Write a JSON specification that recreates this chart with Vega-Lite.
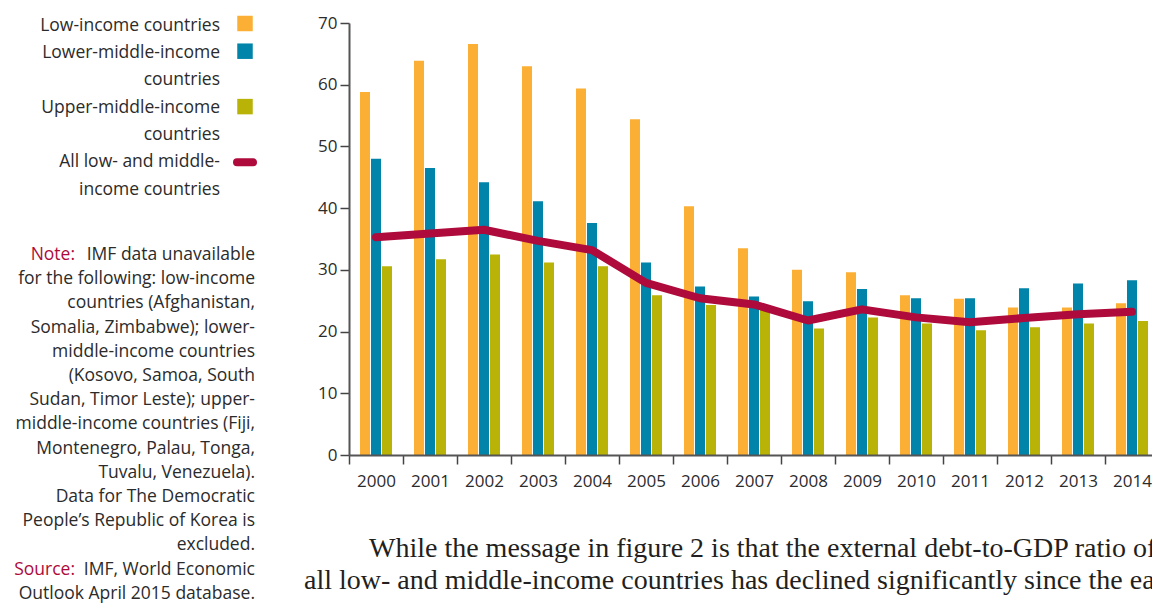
{
  "$schema": "https://vega.github.io/schema/vega-lite/v6.json",
  "autosize": {"type": "none"},
  "width": 803,
  "height": 432,
  "padding": {"left": 349, "top": 23, "right": 0, "bottom": 148},
  "background": "white",
  "config": {
    "view": {"stroke": null},
    "font": "Open Sans",
    "axis": {"labelFont": "Open Sans", "labelColor": "#2b2b2b", "labelFontSize": 17, "domainColor": "#555555", "tickColor": "#444444", "grid": false}
  },
  "datasets": {
    "bars": [
      {"year": "2000", "group": "Low-income countries", "value": 58.8},
      {"year": "2000", "group": "Lower-middle-income countries", "value": 48.0},
      {"year": "2000", "group": "Upper-middle-income countries", "value": 30.6},
      {"year": "2001", "group": "Low-income countries", "value": 63.9},
      {"year": "2001", "group": "Lower-middle-income countries", "value": 46.5},
      {"year": "2001", "group": "Upper-middle-income countries", "value": 31.7},
      {"year": "2002", "group": "Low-income countries", "value": 66.6},
      {"year": "2002", "group": "Lower-middle-income countries", "value": 44.2},
      {"year": "2002", "group": "Upper-middle-income countries", "value": 32.5},
      {"year": "2003", "group": "Low-income countries", "value": 63.0},
      {"year": "2003", "group": "Lower-middle-income countries", "value": 41.1},
      {"year": "2003", "group": "Upper-middle-income countries", "value": 31.2},
      {"year": "2004", "group": "Low-income countries", "value": 59.4},
      {"year": "2004", "group": "Lower-middle-income countries", "value": 37.6},
      {"year": "2004", "group": "Upper-middle-income countries", "value": 30.6},
      {"year": "2005", "group": "Low-income countries", "value": 54.4},
      {"year": "2005", "group": "Lower-middle-income countries", "value": 31.2},
      {"year": "2005", "group": "Upper-middle-income countries", "value": 25.9},
      {"year": "2006", "group": "Low-income countries", "value": 40.3},
      {"year": "2006", "group": "Lower-middle-income countries", "value": 27.3},
      {"year": "2006", "group": "Upper-middle-income countries", "value": 24.3},
      {"year": "2007", "group": "Low-income countries", "value": 33.5},
      {"year": "2007", "group": "Lower-middle-income countries", "value": 25.7},
      {"year": "2007", "group": "Upper-middle-income countries", "value": 23.6},
      {"year": "2008", "group": "Low-income countries", "value": 30.0},
      {"year": "2008", "group": "Lower-middle-income countries", "value": 24.9},
      {"year": "2008", "group": "Upper-middle-income countries", "value": 20.5},
      {"year": "2009", "group": "Low-income countries", "value": 29.6},
      {"year": "2009", "group": "Lower-middle-income countries", "value": 26.9},
      {"year": "2009", "group": "Upper-middle-income countries", "value": 22.3},
      {"year": "2010", "group": "Low-income countries", "value": 25.9},
      {"year": "2010", "group": "Lower-middle-income countries", "value": 25.4},
      {"year": "2010", "group": "Upper-middle-income countries", "value": 21.3},
      {"year": "2011", "group": "Low-income countries", "value": 25.3},
      {"year": "2011", "group": "Lower-middle-income countries", "value": 25.4},
      {"year": "2011", "group": "Upper-middle-income countries", "value": 20.2},
      {"year": "2012", "group": "Low-income countries", "value": 23.9},
      {"year": "2012", "group": "Lower-middle-income countries", "value": 27.0},
      {"year": "2012", "group": "Upper-middle-income countries", "value": 20.7},
      {"year": "2013", "group": "Low-income countries", "value": 23.9},
      {"year": "2013", "group": "Lower-middle-income countries", "value": 27.8},
      {"year": "2013", "group": "Upper-middle-income countries", "value": 21.3},
      {"year": "2014", "group": "Low-income countries", "value": 24.6},
      {"year": "2014", "group": "Lower-middle-income countries", "value": 28.3},
      {"year": "2014", "group": "Upper-middle-income countries", "value": 21.7}
    ],
    "avg": [
      {"year": "2000", "value": 35.3},
      {"year": "2001", "value": 35.9},
      {"year": "2002", "value": 36.5},
      {"year": "2003", "value": 34.7},
      {"year": "2004", "value": 33.2},
      {"year": "2005", "value": 27.9},
      {"year": "2006", "value": 25.4},
      {"year": "2007", "value": 24.4},
      {"year": "2008", "value": 21.8},
      {"year": "2009", "value": 23.6},
      {"year": "2010", "value": 22.3},
      {"year": "2011", "value": 21.5},
      {"year": "2012", "value": 22.2},
      {"year": "2013", "value": 22.8},
      {"year": "2014", "value": 23.2}
    ],
    "legendText": [
      {"line": 0, "text": "Low-income countries"},
      {"line": 1, "text": "Lower-middle-income"},
      {"line": 2, "text": "countries"},
      {"line": 3, "text": "Upper-middle-income"},
      {"line": 4, "text": "countries"},
      {"line": 5, "text": "All low- and middle-"},
      {"line": 6, "text": "income countries"}
    ],
    "swatches": [
      {"line": 0, "group": "Low-income countries"},
      {"line": 1, "group": "Lower-middle-income countries"},
      {"line": 3, "group": "Upper-middle-income countries"}
    ],
    "lineSwatch": [
      {"line": 5, "group": "All low- and middle-income countries"}
    ],
    "noteLead": [
      {"line": 0, "text": "Note:"},
      {"line": 13, "text": "Source:"}
    ],
    "noteText": [
      {"line": 0, "text": "IMF data unavailable"},
      {"line": 1, "text": "for the following: low-income"},
      {"line": 2, "text": "countries (Afghanistan,"},
      {"line": 3, "text": "Somalia, Zimbabwe); lower-"},
      {"line": 4, "text": "middle-income countries"},
      {"line": 5, "text": "(Kosovo, Samoa, South"},
      {"line": 6, "text": "Sudan, Timor Leste); upper-"},
      {"line": 7, "text": "middle-income countries (Fiji,"},
      {"line": 8, "text": "Montenegro, Palau, Tonga,"},
      {"line": 9, "text": "Tuvalu, Venezuela)."},
      {"line": 10, "text": "Data for The Democratic"},
      {"line": 11, "text": "People’s Republic of Korea is"},
      {"line": 12, "text": "excluded."},
      {"line": 13, "text": "IMF, World Economic"},
      {"line": 14, "text": "Outlook April 2015 database."}
    ],
    "bodyFirst": [
      {"line": 0, "text": "While the message in figure 2 is that the external debt-to-GDP ratio of"}
    ],
    "bodyRest": [
      {"line": 1, "text": "all low- and middle-income countries has declined significantly since the early"}
    ]
  },
  "layer": [
    {
      "layer": [
        {
          "data": {"name": "bars"},
          "mark": {"type": "bar"},
          "encoding": {
            "x": {
              "field": "year", "type": "ordinal",
              "scale": {"range": [0, 810], "paddingInner": 0, "paddingOuter": 0},
              "axis": {"title": null, "labelAngle": 0, "tickBand": "extent", "tickSize": 9, "tickWidth": 1.5, "domainWidth": 2, "labelPadding": 9, "zindex": 1}
            },
            "xOffset": {
              "field": "group", "type": "nominal",
              "sort": ["Low-income countries", "Lower-middle-income countries", "Upper-middle-income countries"],
              "scale": {"paddingInner": 0.09, "paddingOuter": 1}
            },
            "y": {
              "field": "value", "type": "quantitative",
              "scale": {"domain": [0, 70], "nice": false},
              "axis": {"title": null, "values": [0, 10, 20, 30, 40, 50, 60, 70], "tickSize": 9, "tickWidth": 1.5, "domainWidth": 2, "labelPadding": 3, "zindex": 1}
            },
            "color": {
              "field": "group", "type": "nominal",
              "scale": {"domain": ["Low-income countries", "Lower-middle-income countries", "Upper-middle-income countries"], "range": ["#FBAF34", "#0084A9", "#B8B306"]},
              "legend": null
            }
          }
        },
        {
          "data": {"name": "avg"},
          "mark": {"type": "line", "color": "#AE0A3B", "strokeWidth": 8, "strokeCap": "round", "strokeJoin": "round"},
          "encoding": {
            "x": {"field": "year", "type": "ordinal"},
            "y": {"field": "value", "type": "quantitative"}
          }
        }
      ]
    },
    {
      "data": {"name": "legendText"},
      "mark": {"type": "text", "align": "right", "baseline": "middle", "font": "Open Sans", "fontSize": 17.5, "color": "#2b2b2b"},
      "encoding": {
        "x": {"datum": 0, "type": "quantitative", "scale": {"domain": [0, 1], "range": [-129, 0]}, "axis": null},
        "y": {"field": "line", "type": "quantitative", "scale": {"domain": [0, 6], "range": [2.5, 166.7]}, "axis": null},
        "text": {"field": "text", "type": "nominal"}
      }
    },
    {
      "data": {"name": "swatches"},
      "mark": {"type": "square", "filled": true, "opacity": 1, "size": 240},
      "encoding": {
        "x": {"datum": 0, "type": "quantitative", "scale": {"domain": [0, 1], "range": [-104, 0]}, "axis": null},
        "y": {"field": "line", "type": "quantitative", "scale": {"domain": [0, 6], "range": [0.5, 166.7]}, "axis": null},
        "color": {
          "field": "group", "type": "nominal",
          "scale": {"domain": ["Low-income countries", "Lower-middle-income countries", "Upper-middle-income countries"], "range": ["#FBAF34", "#0084A9", "#B8B306"]},
          "legend": null
        }
      }
    },
    {
      "data": {"name": "lineSwatch"},
      "mark": {"type": "rule", "color": "#AE0A3B", "strokeWidth": 8, "strokeCap": "round"},
      "encoding": {
        "x": {"datum": 0, "type": "quantitative", "scale": {"domain": [0, 1], "range": [-112, -96]}, "axis": null},
        "x2": {"datum": 1},
        "y": {"field": "line", "type": "quantitative", "scale": {"domain": [0, 6], "range": [2.5, 166.7]}, "axis": null}
      }
    },
    {
      "data": {"name": "noteLead"},
      "mark": {"type": "text", "align": "right", "baseline": "middle", "font": "Open Sans", "fontSize": 17.5, "color": "#AE0A3B"},
      "encoding": {
        "x": {"datum": 0, "type": "quantitative", "scale": {"domain": [0, 1], "range": [-274, 0]}, "axis": null},
        "y": {"field": "line", "type": "quantitative", "scale": {"domain": [0, 14], "range": [232, 570.8]}, "axis": null},
        "text": {"field": "text", "type": "nominal"}
      }
    },
    {
      "data": {"name": "noteText"},
      "mark": {"type": "text", "align": "right", "baseline": "middle", "font": "Open Sans", "fontSize": 17.5, "color": "#2b2b2b"},
      "encoding": {
        "x": {"datum": 0, "type": "quantitative", "scale": {"domain": [0, 1], "range": [-94, 0]}, "axis": null},
        "y": {"field": "line", "type": "quantitative", "scale": {"domain": [0, 14], "range": [232, 570.8]}, "axis": null},
        "text": {"field": "text", "type": "nominal"}
      }
    },
    {
      "data": {"name": "bodyFirst"},
      "mark": {"type": "text", "align": "left", "baseline": "alphabetic", "font": "Liberation Serif", "fontSize": 28, "color": "#231f20"},
      "encoding": {
        "x": {"datum": 0, "type": "quantitative", "scale": {"domain": [0, 1], "range": [20, 100]}, "axis": null},
        "y": {"field": "line", "type": "quantitative", "scale": {"domain": [0, 1], "range": [534, 566]}, "axis": null},
        "text": {"field": "text", "type": "nominal"}
      }
    },
    {
      "data": {"name": "bodyRest"},
      "mark": {"type": "text", "align": "left", "baseline": "alphabetic", "font": "Liberation Serif", "fontSize": 28, "color": "#231f20"},
      "encoding": {
        "x": {"datum": 0, "type": "quantitative", "scale": {"domain": [0, 1], "range": [-45, 0]}, "axis": null},
        "y": {"field": "line", "type": "quantitative", "scale": {"domain": [0, 1], "range": [534, 566]}, "axis": null},
        "text": {"field": "text", "type": "nominal"}
      }
    }
  ],
  "resolve": {"scale": {"x": "independent", "y": "independent", "color": "independent"}}
}
